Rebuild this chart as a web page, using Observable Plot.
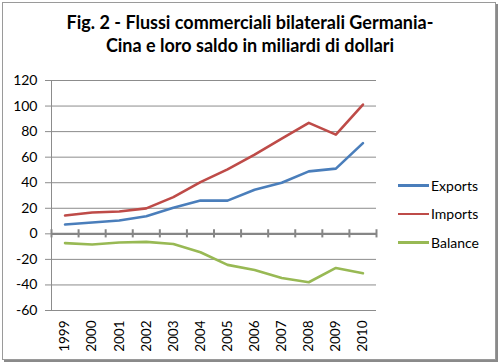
<!DOCTYPE html>
<html>
<head>
<meta charset="utf-8">
<script src="https://cdn.jsdelivr.net/npm/d3@7"></script>
<script src="https://cdn.jsdelivr.net/npm/@observablehq/plot@0.6"></script>
<style>
  html, body { margin: 0; padding: 0; background: #fff; }
  #wrap { position: relative; width: 500px; height: 364px; overflow: hidden; font-family: Lato, "Open Sans", sans-serif; }
  #frame { position: absolute; left: 2px; top: 2px; width: 492px; height: 356px; border: 1px solid #9a9a9a; box-shadow: 2px 2px 0 #8a8a8a; }
  #title { position: absolute; left: 0; top: 11px; width: 500px; text-align: center; font-weight: bold; font-size: 18px; line-height: 23px; color: #000; }
  #chart { position: absolute; left: 0; top: 0; }
  #legend { position: absolute; left: 398px; top: 171px; font-size: 14px; color: #000; }
  .li { height: 28.5px; display: flex; align-items: center; }
  .sw { width: 31px; height: 2.5px; margin-right: 2px; }
</style>
</head>
<body>
<div id="wrap">
  <div id="frame"></div>
  <div id="chart"></div>
  <div id="title">Fig. 2 - Flussi commerciali bilaterali Germania-<br>Cina e loro saldo in miliardi di dollari</div>
  <div id="legend"></div>
</div>
<script>
const years = [1999, 2000, 2001, 2002, 2003, 2004, 2005, 2006, 2007, 2008, 2009, 2010];
const exportsV = [7.3, 8.9, 10.4, 13.8, 20.4, 26.1, 26.0, 34.5, 40.0, 48.9, 51.0, 71.0];
const importsV = [14.3, 16.7, 17.5, 19.9, 28.7, 40.5, 50.4, 62.0, 74.5, 86.8, 77.6, 101.2];
const balanceV = [-7.3, -8.4, -6.8, -6.3, -7.9, -14.4, -24.3, -28.3, -34.5, -37.9, -26.7, -30.9];
const seriesNames = ["Exports", "Imports", "Balance"];
const seriesColors = ["#4a7ebb", "#be4b48", "#98b954"];
const yTicks = [-60, -40, -20, 0, 20, 40, 60, 80, 100, 120];

const seriesValues = [exportsV, importsV, balanceV];
const rows = [];
seriesNames.forEach((s, i) => years.forEach((yr, j) => rows.push({series: s, year: yr, value: seriesValues[i][j]})));
const bounds = years.map(y => y - 0.5).concat([years[years.length - 1] + 0.5]);

const plot = Plot.plot({
  width: 500,
  height: 364,
  marginLeft: 51,
  marginRight: 124,
  marginTop: 80,
  marginBottom: 54,
  style: {fontFamily: "Lato, 'Open Sans', sans-serif", fontSize: "14px", color: "#000", background: "transparent"},
  x: {type: "linear", domain: [bounds[0], bounds[bounds.length - 1]]},
  y: {domain: [-60, 120]},
  color: {domain: seriesNames, range: seriesColors},
  marks: [
    Plot.ruleY(yTicks, {stroke: "#8c8c8c", strokeWidth: 1}),
    Plot.ruleX([bounds[0]], {stroke: "#8c8c8c", strokeWidth: 1}),
    Plot.axisY({ticks: yTicks, tickSize: 6, tickPadding: 8, stroke: "#8c8c8c", tickFormat: d => String(d), fontSize: 14, label: null}),
    Plot.axisX({ticks: years, tickSize: 0, tickRotate: -90, tickPadding: 10, tickFormat: d => String(d), fontSize: 13.5, label: null}),
    Plot.ruleY([0], {stroke: "#868686", strokeWidth: 2.2}),
    Plot.ruleX(bounds, {x: d => d, y1: -3.2, y2: 3.2, stroke: "#868686", strokeWidth: 2}),
    Plot.line(rows, {x: "year", y: "value", z: "series", stroke: "series", strokeWidth: 2.6, curve: "linear"})
  ]
});
document.getElementById("chart").appendChild(plot);

const leg = document.getElementById("legend");
seriesNames.forEach((s, i) => {
  const d = document.createElement("div");
  d.className = "li";
  d.innerHTML = `<span class="sw" style="background:${seriesColors[i]}"></span><span>${s}</span>`;
  leg.appendChild(d);
});
</script>
</body>
</html>
